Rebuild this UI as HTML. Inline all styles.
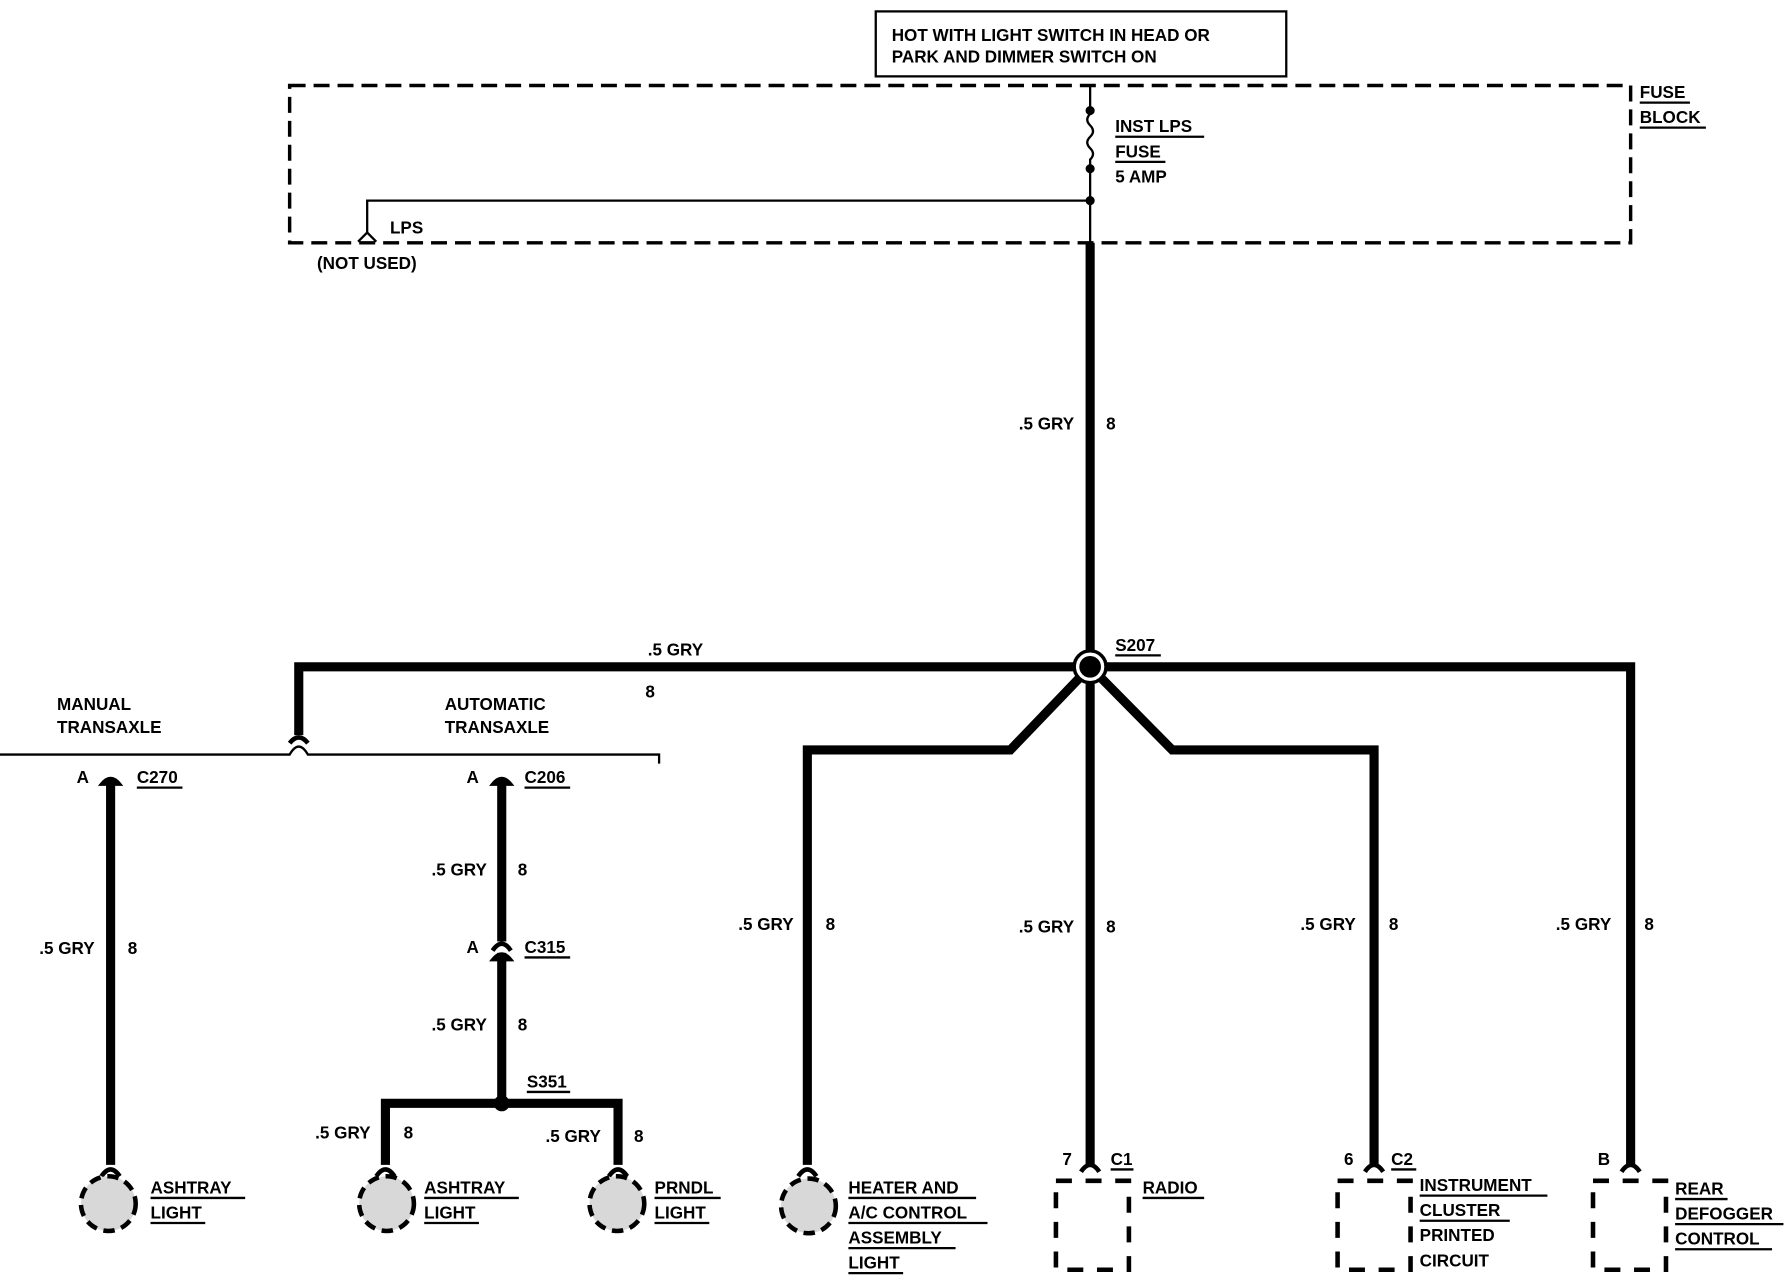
<!DOCTYPE html>
<html><head><style>html,body{margin:0;padding:0;background:#fff}svg{display:block}
text{font-family:"Liberation Sans",sans-serif;font-size:15px;font-weight:bold;fill:#000}</style></head>
<body>
<svg width="1788" height="1280" viewBox="0 0 1568 1123" preserveAspectRatio="none" xmlns="http://www.w3.org/2000/svg">
<defs>
<path id="cup" d="M-8,6 Q0,-6 8,6" fill="none" stroke="#000" stroke-width="4"/>
<path id="cap" d="M-8,4 Q0,-6 8,4 Z" fill="#000" stroke="#000" stroke-width="3"/>
</defs>
<rect x="768" y="10" width="360" height="57" fill="none" stroke="#000" stroke-width="2"/>
<text x="782" y="36">HOT WITH LIGHT SWITCH IN HEAD OR</text>
<text x="782" y="55">PARK AND DIMMER SWITCH ON</text>
<rect x="254" y="75" width="1176" height="138" fill="none" stroke="#000" stroke-width="3" stroke-dasharray="14,7"/>
<text x="1438" y="86">FUSE</text><line x1="1438" y1="90" x2="1482" y2="90" stroke="#000" stroke-width="2"/>
<text x="1438" y="108">BLOCK</text><line x1="1438" y1="112" x2="1496" y2="112" stroke="#000" stroke-width="2"/>
<line x1="956" y1="75" x2="956" y2="100" stroke="#000" stroke-width="2"/>
<path d="M956,100 q-5,5 0,10 q5,5 0,10 q-5,5 0,10 q5,5 0,10 L956,213" fill="none" stroke="#000" stroke-width="2"/>
<circle cx="956" cy="97" r="4"/><circle cx="956" cy="148" r="4"/><circle cx="956" cy="176" r="4"/>
<text x="978" y="116">INST LPS</text><line x1="978" y1="120" x2="1056" y2="120" stroke="#000" stroke-width="2"/>
<text x="978" y="138">FUSE</text><line x1="978" y1="142" x2="1022" y2="142" stroke="#000" stroke-width="2"/>
<text x="978" y="160">5 AMP</text>
<polyline points="956,176 322,176 322,204" fill="none" stroke="#000" stroke-width="2"/>
<path d="M314,212 L322,204 L330,212" fill="none" stroke="#000" stroke-width="2"/>
<text x="342" y="205">LPS</text>
<text x="278" y="236">(NOT USED)</text>
<g stroke="#000" stroke-width="8" fill="none">
<line x1="956" y1="213" x2="956" y2="1022"/>
<polyline points="262,645 262,585 1430,585 1430,1022"/>
<polyline points="956,585 886,658 708,658 708,1022"/>
<polyline points="956,585 1028,658 1205,658 1205,1022"/>
<line x1="97" y1="686" x2="97" y2="1022"/>
<line x1="440" y1="686" x2="440" y2="826"/>
<line x1="440" y1="836" x2="440" y2="968"/>
<polyline points="338,1022 338,968 542,968 542,1022"/>
</g>
<circle cx="956" cy="585" r="11" fill="#000" stroke="#fff" stroke-width="3"/>
<circle cx="956" cy="585" r="14" fill="none" stroke="#000" stroke-width="3"/>
<circle cx="440" cy="968" r="7"/>
<path d="M0,662 L254,662 Q262,648 270,662 L578,662 L578,670" fill="none" stroke="#000" stroke-width="2"/>
<path d="M254,652 Q262,642 270,652" fill="none" stroke="#000" stroke-width="4"/>
<text x="50" y="623">MANUAL</text><text x="50" y="643">TRANSAXLE</text>
<text x="390" y="623">AUTOMATIC</text><text x="390" y="643">TRANSAXLE</text>
<text x="978" y="571">S207</text><line x1="978" y1="575" x2="1018" y2="575" stroke="#000" stroke-width="2"/>
<text x="568" y="575">.5 GRY</text><text x="566" y="612">8</text>
<g text-anchor="end">
<text x="942" y="377">.5 GRY</text><text x="83" y="837">.5 GRY</text><text x="427" y="768">.5 GRY</text><text x="427" y="904">.5 GRY</text>
<text x="325" y="999">.5 GRY</text><text x="527" y="1002">.5 GRY</text><text x="696" y="816">.5 GRY</text><text x="942" y="818">.5 GRY</text>
<text x="1189" y="816">.5 GRY</text><text x="1413" y="816">.5 GRY</text>
<text x="78" y="687">A</text><text x="420" y="687">A</text><text x="420" y="836">A</text>
<text x="940" y="1022">7</text><text x="1187" y="1022">6</text><text x="1412" y="1022">B</text>
</g>
<text x="970" y="377">8</text><text x="112" y="837">8</text><text x="454" y="768">8</text><text x="454" y="904">8</text>
<text x="354" y="999">8</text><text x="556" y="1002">8</text><text x="724" y="816">8</text><text x="970" y="818">8</text>
<text x="1218" y="816">8</text><text x="1442" y="816">8</text>
<use href="#cap" x="97" y="684"/><use href="#cap" x="440" y="684"/><use href="#cap" x="440" y="838"/><use href="#cup" x="440" y="828"/>
<text x="120" y="687">C270</text><line x1="120" y1="691" x2="160" y2="691" stroke="#000" stroke-width="2"/>
<text x="460" y="687">C206</text><line x1="460" y1="691" x2="500" y2="691" stroke="#000" stroke-width="2"/>
<text x="460" y="836">C315</text><line x1="460" y1="840" x2="500" y2="840" stroke="#000" stroke-width="2"/>
<text x="462" y="954">S351</text><line x1="462" y1="958" x2="500" y2="958" stroke="#000" stroke-width="2"/>
<g>
<use href="#cup" x="97" y="1026"/><use href="#cup" x="338" y="1026"/><use href="#cup" x="542" y="1026"/><use href="#cup" x="708" y="1026"/>
<use href="#cup" x="956" y="1022"/><use href="#cup" x="1205" y="1022"/><use href="#cup" x="1430" y="1022"/>
</g>
<g fill="#d8d8d8" stroke="#000" stroke-width="4" stroke-dasharray="10,6">
<circle cx="95" cy="1056" r="24"/><circle cx="339" cy="1056" r="24"/><circle cx="541" cy="1056" r="24"/><circle cx="709" cy="1058" r="24"/>
</g>
<g fill="none" stroke="#000" stroke-width="4" stroke-dasharray="14,12">
<rect x="926" y="1036" width="64" height="78"/><rect x="1173" y="1036" width="64" height="78"/><rect x="1397" y="1036" width="64" height="78"/>
</g>
<text x="974" y="1022">C1</text><line x1="974" y1="1026" x2="994" y2="1026" stroke="#000" stroke-width="2"/>
<text x="1220" y="1022">C2</text><line x1="1220" y1="1026" x2="1242" y2="1026" stroke="#000" stroke-width="2"/>
<g stroke="#000" stroke-width="2">
<text x="132" y="1047" stroke="none">ASHTRAY</text><line x1="132" y1="1051" x2="215" y2="1051"/>
<text x="132" y="1069" stroke="none">LIGHT</text><line x1="132" y1="1073" x2="180" y2="1073"/>
<text x="372" y="1047" stroke="none">ASHTRAY</text><line x1="372" y1="1051" x2="455" y2="1051"/>
<text x="372" y="1069" stroke="none">LIGHT</text><line x1="372" y1="1073" x2="420" y2="1073"/>
<text x="574" y="1047" stroke="none">PRNDL</text><line x1="574" y1="1051" x2="632" y2="1051"/>
<text x="574" y="1069" stroke="none">LIGHT</text><line x1="574" y1="1073" x2="622" y2="1073"/>
<text x="744" y="1047" stroke="none">HEATER AND</text><line x1="744" y1="1051" x2="856" y2="1051"/>
<text x="744" y="1069" stroke="none">A/C CONTROL</text><line x1="744" y1="1073" x2="866" y2="1073"/>
<text x="744" y="1091" stroke="none">ASSEMBLY</text><line x1="744" y1="1095" x2="838" y2="1095"/>
<text x="744" y="1113" stroke="none">LIGHT</text><line x1="744" y1="1117" x2="792" y2="1117"/>
<text x="1002" y="1047" stroke="none">RADIO</text><line x1="1002" y1="1051" x2="1056" y2="1051"/>
<text x="1245" y="1045" stroke="none">INSTRUMENT</text><line x1="1245" y1="1049" x2="1357" y2="1049"/>
<text x="1245" y="1067" stroke="none">CLUSTER</text><line x1="1245" y1="1071" x2="1324" y2="1071"/>
<text x="1245" y="1089" stroke="none">PRINTED</text>
<text x="1245" y="1111" stroke="none">CIRCUIT</text>
<text x="1469" y="1048" stroke="none">REAR</text><line x1="1469" y1="1052" x2="1515" y2="1052"/>
<text x="1469" y="1070" stroke="none">DEFOGGER</text><line x1="1469" y1="1074" x2="1564" y2="1074"/>
<text x="1469" y="1092" stroke="none">CONTROL</text><line x1="1469" y1="1096" x2="1554" y2="1096"/>
</g>
</svg>
</body></html>
